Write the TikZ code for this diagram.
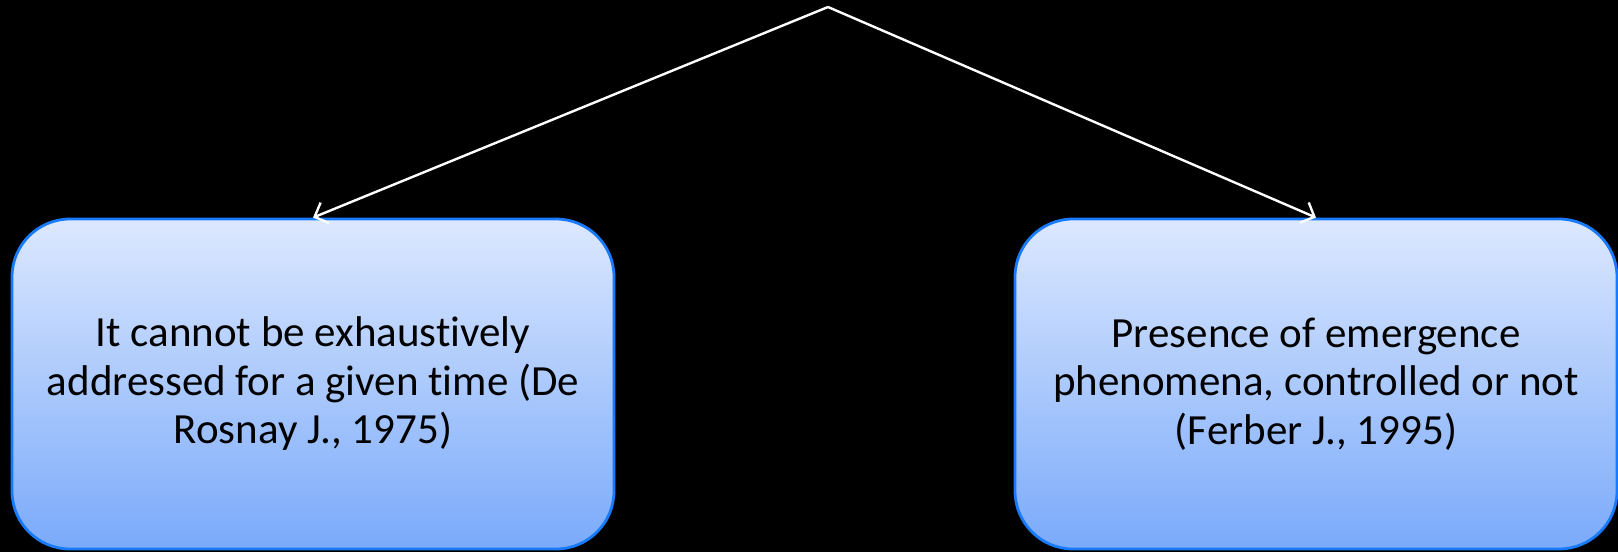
\documentclass[tikz,border=0pt]{standalone}
\usepackage{fontspec}
\setmainfont[Ligatures=NoCommon,RawFeature={-liga;-clig;-calt;-dlig}]{Carlito}
\usetikzlibrary{arrows.meta}
\definecolor{boxtop}{RGB}{220,232,254}
\definecolor{boxbot}{RGB}{122,170,250}
\definecolor{boxline}{RGB}{24,122,252}
\tikzset{
  infobox/.style={rounded corners=58pt, top color=boxtop, bottom color=boxbot,
    draw=boxline, line width=2.8pt, minimum width=602pt, minimum height=330pt,
    inner sep=0pt, align=center, font=\fontsize{43}{48.5}\selectfont, text=black},
  link/.style={draw=white, line width=2.4pt, -{Straight Barb[length=11pt,width=22pt,line width=2.4pt]}}
}
\begin{document}
\begin{tikzpicture}[x=1pt,y=-1pt]
\fill[black] (0,0) rectangle (1618,552);
\useasboundingbox (0,0) rectangle (1618,552);
\coordinate (apex) at (828,7);
\node[infobox] (left) at (313,384) {It cannot be exhaustively\\addressed for a given time (De\\Rosnay J., 1975)};
\node[infobox] (right) at (1316,384) {Presence of emergence\\phenomena, controlled or not\\(Ferber J., 1995)};
\draw[link] (apex) -- (left.north);
\draw[link] (apex) -- (right.north);
\end{tikzpicture}
\end{document}
